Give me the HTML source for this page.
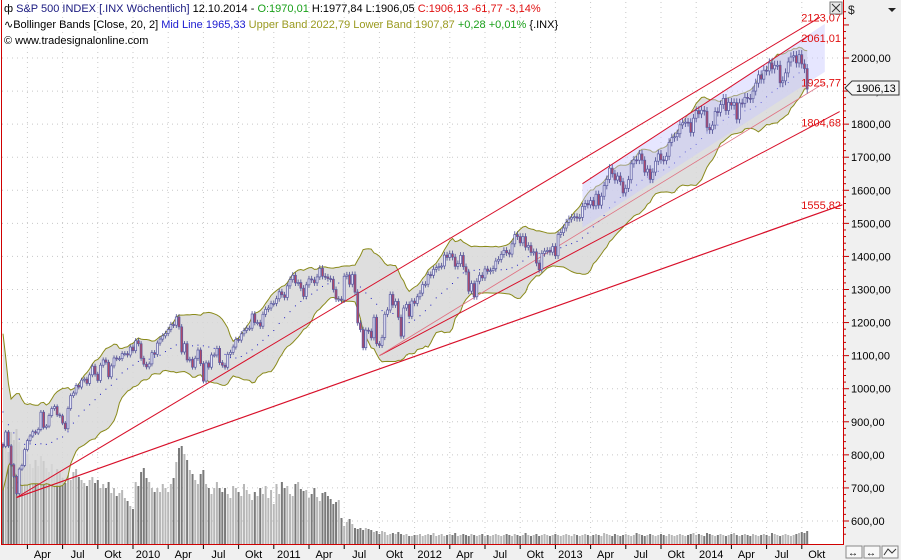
<!DOCTYPE html>
<html><head><meta charset="utf-8">
<style>
html,body{margin:0;padding:0;background:#fff;}
svg{display:block;font-family:"Liberation Sans",Tahoma,sans-serif;}
</style></head>
<body>
<svg id="chart" width="901" height="560" viewBox="0 0 901 560" xmlns="http://www.w3.org/2000/svg">
  <rect x="0" y="0" width="901" height="560" fill="#ffffff"/>
  <rect x="844" y="0" width="57" height="560" fill="#f0f0f0"/>
  <rect x="0" y="545" width="844" height="15" fill="#f0f0f0"/>
  <g id="grid"></g>
  <g id="volume"></g>
  <g id="bands"></g>
  <g id="trend"></g>
  <g id="candles"></g>
  <g id="axes"></g>
  <g font-size="11">
    <text x="4" y="12"><tspan fill="#000">ф</tspan><tspan fill="#1a1a80"> S&amp;P 500 INDEX [.INX  Wöchentlich]</tspan><tspan fill="#000"> 12.10.2014 - </tspan><tspan fill="#1aa01a">O:1970,01</tspan><tspan fill="#000"> H:1977,84 L:1906,05 </tspan><tspan fill="#e01010">C:1906,13 -61,77 -3,14%</tspan></text>
    <text x="4" y="28"><tspan fill="#000">∿Bollinger Bands [Close, 20, 2] </tspan><tspan fill="#1a1ad0">Mid Line 1965,33 </tspan><tspan fill="#9a9a20">Upper Band 2022,79 Lower Band 1907,87 </tspan><tspan fill="#1aa01a">+0,28 +0,01% </tspan><tspan fill="#000">{.INX}</tspan></text>
    <text x="4" y="44" fill="#000">© www.tradesignalonline.com</text>
  </g>
  <g>
    <rect x="830" y="2" width="12" height="12" fill="#e8e8e8" stroke="#777"/>
    <path d="M832,4 L840,12 M840,4 L832,12" stroke="#333" stroke-width="1"/>
  </g>
  <text x="848" y="14" font-size="12" fill="#222">$</text>
  <path d="M888,8 L896,8 L892,12 Z" fill="#222"/>
  <g>
    <path d="M845,88 L852,81 L899,81 L899,95 L852,95 Z" fill="#f4f4f4" stroke="#333"/>
    <text x="856" y="92" font-size="11" fill="#000">1906,13</text>
  </g>
  <g font-size="10">
    <rect x="846" y="546" width="16" height="12" fill="#f8f8f8" stroke="#888"/>
    <text x="848" y="556">↔</text>
    <rect x="864" y="546" width="16" height="12" fill="#f8f8f8" stroke="#888"/>
    <text x="866" y="556">↔</text>
    <rect x="882" y="546" width="16" height="12" fill="#f8f8f8" stroke="#888"/>
    <path d="M884,555 L888,549 L892,553 L896,549" stroke="#333" fill="none"/>
  </g>
</svg>
<script>
// ---- data ----
const preCloses = [1252,1255,1213,1099,899,940,877,968,930,873,800,896,876,879,887,872,931,890,850,832];
const closes2009 = [826,869,827,770,735,683,757,768,816,843,857,870,866,877,929,883,887,919,940,946,921,918,896,879,940,979,987,1010,1005,1026,1029,1016,1042,1068,1044,1025,1071,1087,1080,1036,1069,1093,1091,1091,1106,1106,1102,1126,1115];
const closes2010 = [1145,1136,1092,1074,1066,1075,1109,1104,1138,1150,1160,1167,1179,1194,1192,1217,1187,1111,1136,1087,1089,1065,1092,1117,1076,1023,1078,1065,1102,1102,1122,1079,1071,1065,1104,1110,1126,1149,1147,1166,1176,1183,1183,1226,1200,1200,1189,1225,1240,1244,1257,1258];
const closes2011 = [1272,1293,1284,1276,1311,1330,1343,1320,1321,1304,1279,1314,1332,1329,1320,1338,1364,1340,1338,1333,1331,1300,1271,1271,1268,1340,1344,1316,1345,1292,1199,1179,1124,1177,1174,1154,1216,1136,1131,1155,1225,1238,1285,1253,1264,1216,1159,1244,1255,1219,1265,1258];
const closes2012 = [1278,1289,1315,1316,1345,1343,1361,1366,1370,1371,1404,1397,1408,1398,1370,1378,1403,1369,1353,1295,1318,1278,1325,1343,1335,1362,1355,1357,1363,1386,1391,1406,1418,1411,1407,1438,1466,1460,1441,1460,1428,1433,1412,1414,1380,1360,1409,1416,1418,1413,1430,1402];
const closes2013 = [1466,1472,1486,1503,1513,1518,1520,1516,1518,1551,1560,1556,1569,1553,1588,1555,1582,1614,1633,1667,1650,1631,1643,1626,1592,1606,1632,1680,1692,1691,1710,1691,1655,1664,1633,1655,1688,1710,1692,1690,1703,1745,1759,1762,1771,1798,1804,1806,1805,1775,1818,1841];
const closes2014 = [1831,1842,1839,1790,1783,1797,1838,1836,1859,1878,1841,1866,1857,1865,1815,1864,1863,1881,1878,1877,1900,1924,1949,1936,1963,1961,1985,1967,1978,1978,1925,1931,1955,1988,2003,2007,1985,2010,1982,1968,1906];
const volumes = [100,108,92,112,104,115,102,94,86,90,80,76,84,78,88,83,76,72,80,69,75,72,66,61,69,64,72,75,67,64,61,58,64,67,61,64,56,60,56,62,51,56,48,51,54,46,43,38,35,
62,58,72,76,66,62,56,52,56,52,60,56,52,60,66,82,96,98,90,84,74,70,64,60,70,74,60,56,50,56,62,56,52,56,50,46,58,56,52,48,60,54,50,44,52,48,56,50,58,46,54,40,
60,50,62,56,58,50,48,60,62,55,53,54,46,50,56,47,43,51,52,48,45,40,42,44,26,18,22,25,20,16,15,16,14,16,15,14,12,13,10,13,12,9,10,11,10,12,10,9,10,8,8,9,
9,10,8,9,10,9,11,8,9,10,8,9,10,9,11,8,9,10,9,8,10,9,8,9,10,8,9,8,9,10,9,8,9,10,9,8,10,9,8,9,11,9,8,9,10,8,9,10,9,8,9,10,
9,8,9,10,9,8,10,9,8,9,10,9,8,9,10,9,8,11,10,9,8,10,9,8,9,10,9,8,9,11,10,9,8,9,10,9,8,9,10,9,8,10,9,8,9,10,9,8,9,10,11,9,
10,9,8,11,10,9,8,9,10,9,8,9,10,11,9,8,9,10,9,8,10,9,8,9,10,9,8,11,10,9,8,9,10,9,8,9,10,11,12,11,13];
const priceTicks = [600,700,800,900,1000,1100,1200,1300,1400,1500,1600,1700,1800,1900,2000];
const timeLabels = ["Apr","Jul","Okt","2010","Apr","Jul","Okt","2011","Apr","Jul","Okt","2012","Apr","Jul","Okt","2013","Apr","Jul","Okt","2014","Apr","Jul","Okt"];
const trendLabels = ["2123,07","2061,01","1925,77","1804,68","1555,82"];
const trendLevels = [2123.07,2061.01,1925.77,1804.68,1555.82];
// trendline anchors: [startIndex, startPrice, endIndex, endPrice]
const trendTop = [5,671,301.7,2123];
const trendSupport = [5,671,310,1556];
const trendMid = [139,1100,309,1838];
const trendInner = [139,1100,303.5,1925];
const channelUpper = [214,1620,298,2070];
const channelBox = [214,1620,1487,303.5,2103,1958];

const closes = [].concat(closes2009,closes2010,closes2011,closes2012,closes2013,closes2014);
const allCloses = preCloses.concat(closes);

// ---- axes ----
const X0 = 3, DX = 35.2*4/52;
const xOf = i => X0 + i*DX;
const yOf = v => 58 + (2000 - v)*0.33071;
const NS = "http://www.w3.org/2000/svg";
function mk(tag, parent, attrs){ const e=document.createElementNS(NS,tag); for(const k in attrs) e.setAttribute(k,attrs[k]); parent.appendChild(e); return e; }

const grid = document.getElementById('grid');
const axes = document.getElementById('axes');
priceTicks.forEach(v=>{
  const y=yOf(v);
  const g=mk('line',grid,{x1:2,x2:843,y1:y,y2:y,stroke:'#c8c8c8','stroke-dasharray':'1,4'});
  
  
  const t=mk('text',axes,{x:851,y:y+4,'font-size':11,fill:'#000'});
  t.textContent=v.toFixed(2).replace('.',',');
  
  
});
for(let v=560; v<=2140; v+=20){
  const y=yOf(v); if(y<2||y>543) continue;
  const tk=mk('line',axes,{x1:843,x2:(v%100===0)?849:846,y1:y,y2:y,stroke:'#c00000'});
  
  
}
const qx0 = 133 - 3*35.2;
timeLabels.forEach((lab,k)=>{
  const x=qx0 + k*35.2;
  const g=mk('line',grid,{x1:x,x2:x,y1:2,y2:544,stroke:'#c8c8c8','stroke-dasharray':'1,4'});
  
  
  const tk=mk('line',axes,{x1:x,x2:x,y1:545,y2:549,stroke:'#000'});
  
  
  const t=mk('text',axes,{x:x+15,y:558,'font-size':11,fill:'#000','text-anchor':'middle'});
  t.textContent=lab;
  
  
});
const bl=mk('line',axes,{x1:1.5,x2:1.5,y1:0,y2:544.5,stroke:'#d00000'});


const bb=mk('line',axes,{x1:1,x2:843.5,y1:544.5,y2:544.5,stroke:'#d00000'});


const br=mk('line',axes,{x1:843.5,x2:843.5,y1:0,y2:545,stroke:'#d00000'});



// ---- volume ----
const vg=document.getElementById('volume');
volumes.forEach((v,i)=>{
  if(i>=closes.length) return;
  const x=xOf(i);
  const prev = i>0?closes[i-1]:allCloses[preCloses.length-1];
  const dark = closes[i] < prev;
  const r=mk('rect',vg,{x:x-1,y:544-v,width:2,height:v,fill:dark?'#7a7a7a':'#b8b8b8'});
  
  
});

// ---- bollinger ----
const bg=document.getElementById('bands');
const up=[],lo=[],mid=[];
for(let i=0;i<closes.length;i++){
  const j=i+preCloses.length;
  const win=allCloses.slice(Math.max(0,j-19),j+1);
  const m=win.reduce((a,b)=>a+b,0)/win.length;
  const sd=Math.sqrt(win.reduce((a,b)=>a+(b-m)*(b-m),0)/win.length);
  mid.push(m); up.push(m+2*sd); lo.push(m-2*sd);
}
let d='M'+closes.map((c,i)=>xOf(i).toFixed(1)+','+yOf(up[i]).toFixed(1)).join(' L');
for(let i=closes.length-1;i>=0;i--) d+=' L'+xOf(i).toFixed(1)+','+yOf(lo[i]).toFixed(1);
const bf=mk('path',bg,{d:d+' Z',fill:'#d8d8d8','fill-opacity':0.85,stroke:'none'});


const ul=mk('polyline',bg,{points:closes.map((c,i)=>xOf(i).toFixed(1)+','+yOf(up[i]).toFixed(1)).join(' '),fill:'none',stroke:'#8a8a1a','stroke-width':1});


const ll=mk('polyline',bg,{points:closes.map((c,i)=>xOf(i).toFixed(1)+','+yOf(lo[i]).toFixed(1)).join(' '),fill:'none',stroke:'#8a8a1a','stroke-width':1});


mid.forEach((m,i)=>{
  if(i%2) return;
  const c=mk('rect',bg,{x:xOf(i)-0.5,y:yOf(m)-0.5,width:1,height:1,fill:'#2020c0'});
  
  
});

// ---- trendlines ----
const tg=document.getElementById('trend');
const cb=channelBox;
const box=mk('path',tg,{d:`M${xOf(cb[0])},${yOf(cb[1])} L${xOf(cb[3])},${yOf(cb[4])} L${xOf(cb[3])},${yOf(cb[5])} L${xOf(cb[0])},${yOf(cb[2])} Z`,fill:'#c8c8ff','fill-opacity':0.45});


function tl(a,name,w,col){
  const l=mk('line',tg,{x1:xOf(a[0]),y1:yOf(a[1]),x2:xOf(a[2]),y2:yOf(a[3]),stroke:col,'stroke-width':w});
  
  
}
tl(trendTop,'trendline-top',1,'#d8102a');
tl(trendSupport,'trendline-support',1.2,'#d8102a');
tl(trendMid,'trendline-mid',1,'#d8102a');
tl(trendInner,'trendline-inner',0.8,'#e07080');
tl(channelUpper,'channel-upper',1,'#d8102a');
trendLevels.forEach((v,k)=>{
  const t=mk('text',tg,{x:841,y:yOf(v)+4,'font-size':11,fill:'#e01010','text-anchor':'end'});
  t.textContent=trendLabels[k];
  
  
});

// ---- candles ----
const cg=document.getElementById('candles');
closes.forEach((c,i)=>{
  const o = i>0?closes[i-1]:allCloses[preCloses.length-1];
  const hi=Math.max(o,c)*1.007, lw=Math.min(o,c)*0.993;
  const x=xOf(i);
  const w=mk('line',cg,{x1:x,x2:x,y1:yOf(hi),y2:yOf(lw),stroke:'#4a4a90','stroke-width':0.8});
  
  
  const top=yOf(Math.max(o,c)), h=Math.max(1,yOf(Math.min(o,c))-top);
  const r=mk('rect',cg,{x:x-1,y:top,width:2,height:h,fill:c<o?'#b04868':'#e8e8f8',stroke:'#5a5aa0','stroke-width':0.7});
  
  
});
</script>
</body></html>
